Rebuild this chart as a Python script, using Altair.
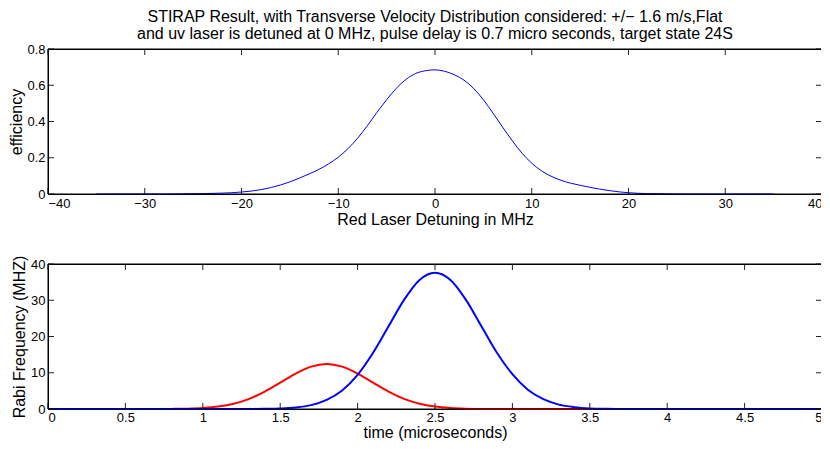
import altair as alt
import pandas as pd

TITLE_LINES = [
    "STIRAP Result, with Transverse Velocity Distribution considered: +/\u2212 1.6 m/s,Flat",
    "and uv laser is detuned at 0 MHz, pulse delay is 0.7 micro seconds, target state 24S",
]

# top panel: efficiency vs red laser detuning (MHz)
detuning = [-35, -32, -30, -28, -26, -24, -22, -21, -20, -19, -18, -17, -16, -15, -14, -13,
            -12, -11, -10, -9, -8, -7, -6, -5, -4, -3, -2, -1, 0, 1, 2, 3, 4, 5, 6, 7, 8,
            9, 10, 11, 12, 13, 14, 15, 16, 17, 18, 19, 20, 21, 22, 24, 26, 28, 30, 32, 35]
efficiency = [0, 0, 0, 0, 0.001, 0.002, 0.005, 0.007, 0.011, 0.016, 0.024, 0.035, 0.049, 0.067,
              0.088, 0.111, 0.136, 0.166, 0.203, 0.250, 0.308, 0.376, 0.450, 0.520, 0.583,
              0.632, 0.665, 0.680, 0.685, 0.677, 0.658, 0.628, 0.582, 0.520, 0.446, 0.368,
              0.293, 0.225, 0.170, 0.128, 0.098, 0.076, 0.060, 0.048, 0.037, 0.027, 0.019,
              0.012, 0.007, 0.004, 0.002, 0.001, 0, 0, 0, 0, 0]

# bottom panel: Rabi frequencies vs time (microseconds)
time_us = [0, 0.5, 0.7, 0.8, 0.9, 1.0, 1.1, 1.2, 1.3, 1.4, 1.5, 1.6, 1.7, 1.8, 1.9, 2.0,
           2.1, 2.2, 2.3, 2.4, 2.5, 2.6, 2.7, 2.8, 2.9, 3.0, 3.1, 3.2, 3.3, 3.4, 3.5, 3.6,
           3.7, 3.8, 4.0, 4.5, 5.0]
red_rabi = [0, 0, 0, 0.03, 0.10, 0.28, 0.67, 1.46, 2.80, 4.79, 7.26, 9.77, 11.68, 12.4, 11.68, 9.77,
            7.26, 4.79, 2.80, 1.46, 0.67, 0.28, 0.10, 0.03, 0.01, 0, 0, 0, 0, 0, 0, 0,
            0, 0, 0, 0, 0]
blue_rabi = [0, 0, 0, 0, 0, 0, 0, 0, 0.01, 0.05, 0.15, 0.42, 1.07, 2.5, 5.1, 9.4,
             15.5, 22.8, 30.1, 35.6, 37.6, 35.6, 30.1, 22.8, 15.5, 9.6, 5.3, 2.7, 1.2, 0.5, 0.17, 0.06,
             0.02, 0, 0, 0, 0]
series_names = ["red", "blue"]
series_colors = ["#ff0000", "#0000ff"]

top_xticks = [-40, -30, -20, -10, 0, 10, 20, 30, 40]
top_yticks = [0, 0.2, 0.4, 0.6, 0.8]
bot_xticks = [0, 0.5, 1, 1.5, 2, 2.5, 3, 3.5, 4, 4.5, 5]
bot_yticks = [0, 10, 20, 30, 40]

W = 774
H = 145
TL = 6
FONT = "Liberation Sans"


def make_axis(values, title, pad_label, pad_title):
    return alt.Axis(values=values, title=title, ticks=False, domain=False, grid=False,
                    tickSize=0, labelPadding=pad_label, titlePadding=pad_title,
                    labelFont=FONT, labelFontSize=13, labelColor="black",
                    titleFont=FONT, titleFontSize=16, titleFontWeight="normal",
                    titleColor="black", format="~r", labelOverlap=False)


def frame_layers(xvals, yvals, xscale, yscale, xaxis, yaxis):
    dx = pd.DataFrame({"v": xvals})
    dy = pd.DataFrame({"v": yvals})
    bx = alt.Chart(dx).mark_rule(color="#222222", strokeWidth=1)
    by = alt.Chart(dy).mark_rule(color="#222222", strokeWidth=1)
    one = alt.Chart(pd.DataFrame({"k": [0]})).mark_rule(color="black", strokeWidth=1)
    return [
        bx.encode(x=alt.X("v:Q", scale=xscale, axis=xaxis), y=alt.value(H), y2=alt.value(H - TL)),
        bx.encode(x=alt.X("v:Q", scale=xscale, axis=xaxis), y=alt.value(0), y2=alt.value(TL)),
        by.encode(y=alt.Y("v:Q", scale=yscale, axis=yaxis), x=alt.value(0), x2=alt.value(TL)),
        by.encode(y=alt.Y("v:Q", scale=yscale, axis=yaxis), x=alt.value(W), x2=alt.value(W - TL)),
        one.encode(x=alt.value(0), x2=alt.value(W), y=alt.value(0)),
        one.encode(x=alt.value(0), x2=alt.value(W), y=alt.value(H)),
        one.encode(y=alt.value(0), y2=alt.value(H), x=alt.value(0)),
        one.encode(y=alt.value(0), y2=alt.value(H), x=alt.value(W)),
    ]


# ---- top panel
top_df = pd.DataFrame({"det": detuning, "eff": efficiency})
xs_top = alt.Scale(domain=[-40, 40], nice=False, zero=False)
ys_top = alt.Scale(domain=[0, 0.8], nice=False)
xa_top = make_axis(top_xticks, "Red Laser Detuning in MHz", 3, 1)
ya_top = make_axis(top_yticks, "efficiency", 3, 2)
top_line = alt.Chart(top_df).mark_line(color="#0000ff", strokeWidth=1, interpolate="monotone").encode(
    x=alt.X("det:Q", scale=xs_top, axis=xa_top),
    y=alt.Y("eff:Q", scale=ys_top, axis=ya_top),
)
top = alt.layer(top_line, *frame_layers(top_xticks, top_yticks, xs_top, ys_top, xa_top, ya_top)).properties(
    width=W, height=H,
    title=alt.TitleParams(text=TITLE_LINES, font=FONT, fontSize=16, fontWeight="normal",
                          color="black", anchor="middle", frame="group", lineHeight=17, offset=1),
)

# ---- bottom panel
rows = []
for name, vals in zip(series_names, [red_rabi, blue_rabi]):
    for i, (t, v) in enumerate(zip(time_us, vals)):
        rows.append({"t": t, "rabi": v, "series": name, "i": i})
bot_df = pd.DataFrame(rows)
xs_bot = alt.Scale(domain=[0, 5], nice=False, zero=False)
ys_bot = alt.Scale(domain=[0, 40], nice=False)
xa_bot = make_axis(bot_xticks, "time (microseconds)", 2, 0)
ya_bot = make_axis(bot_yticks, "Rabi Frequency (MHZ)", 3, 3)
rabi_lines = alt.Chart(bot_df).mark_line(strokeWidth=2, interpolate="monotone").encode(
    x=alt.X("t:Q", scale=xs_bot, axis=xa_bot),
    y=alt.Y("rabi:Q", scale=ys_bot, axis=ya_bot),
    color=alt.Color("series:N", scale=alt.Scale(domain=series_names, range=series_colors), legend=None),
    order=alt.Order("i:Q"),
)
bot = alt.layer(rabi_lines, *frame_layers(bot_xticks, bot_yticks, xs_bot, ys_bot, xa_bot, ya_bot)).properties(
    width=W, height=H,
)

chart = alt.vconcat(top, bot, spacing=70, bounds="flush").properties(
    padding={"top": 0, "left": 0, "right": -6, "bottom": 0},
).configure(background="white").configure_view(stroke="black", strokeWidth=1)

chart.save("out.html", embed_options={"renderer": "svg", "actions": False})
